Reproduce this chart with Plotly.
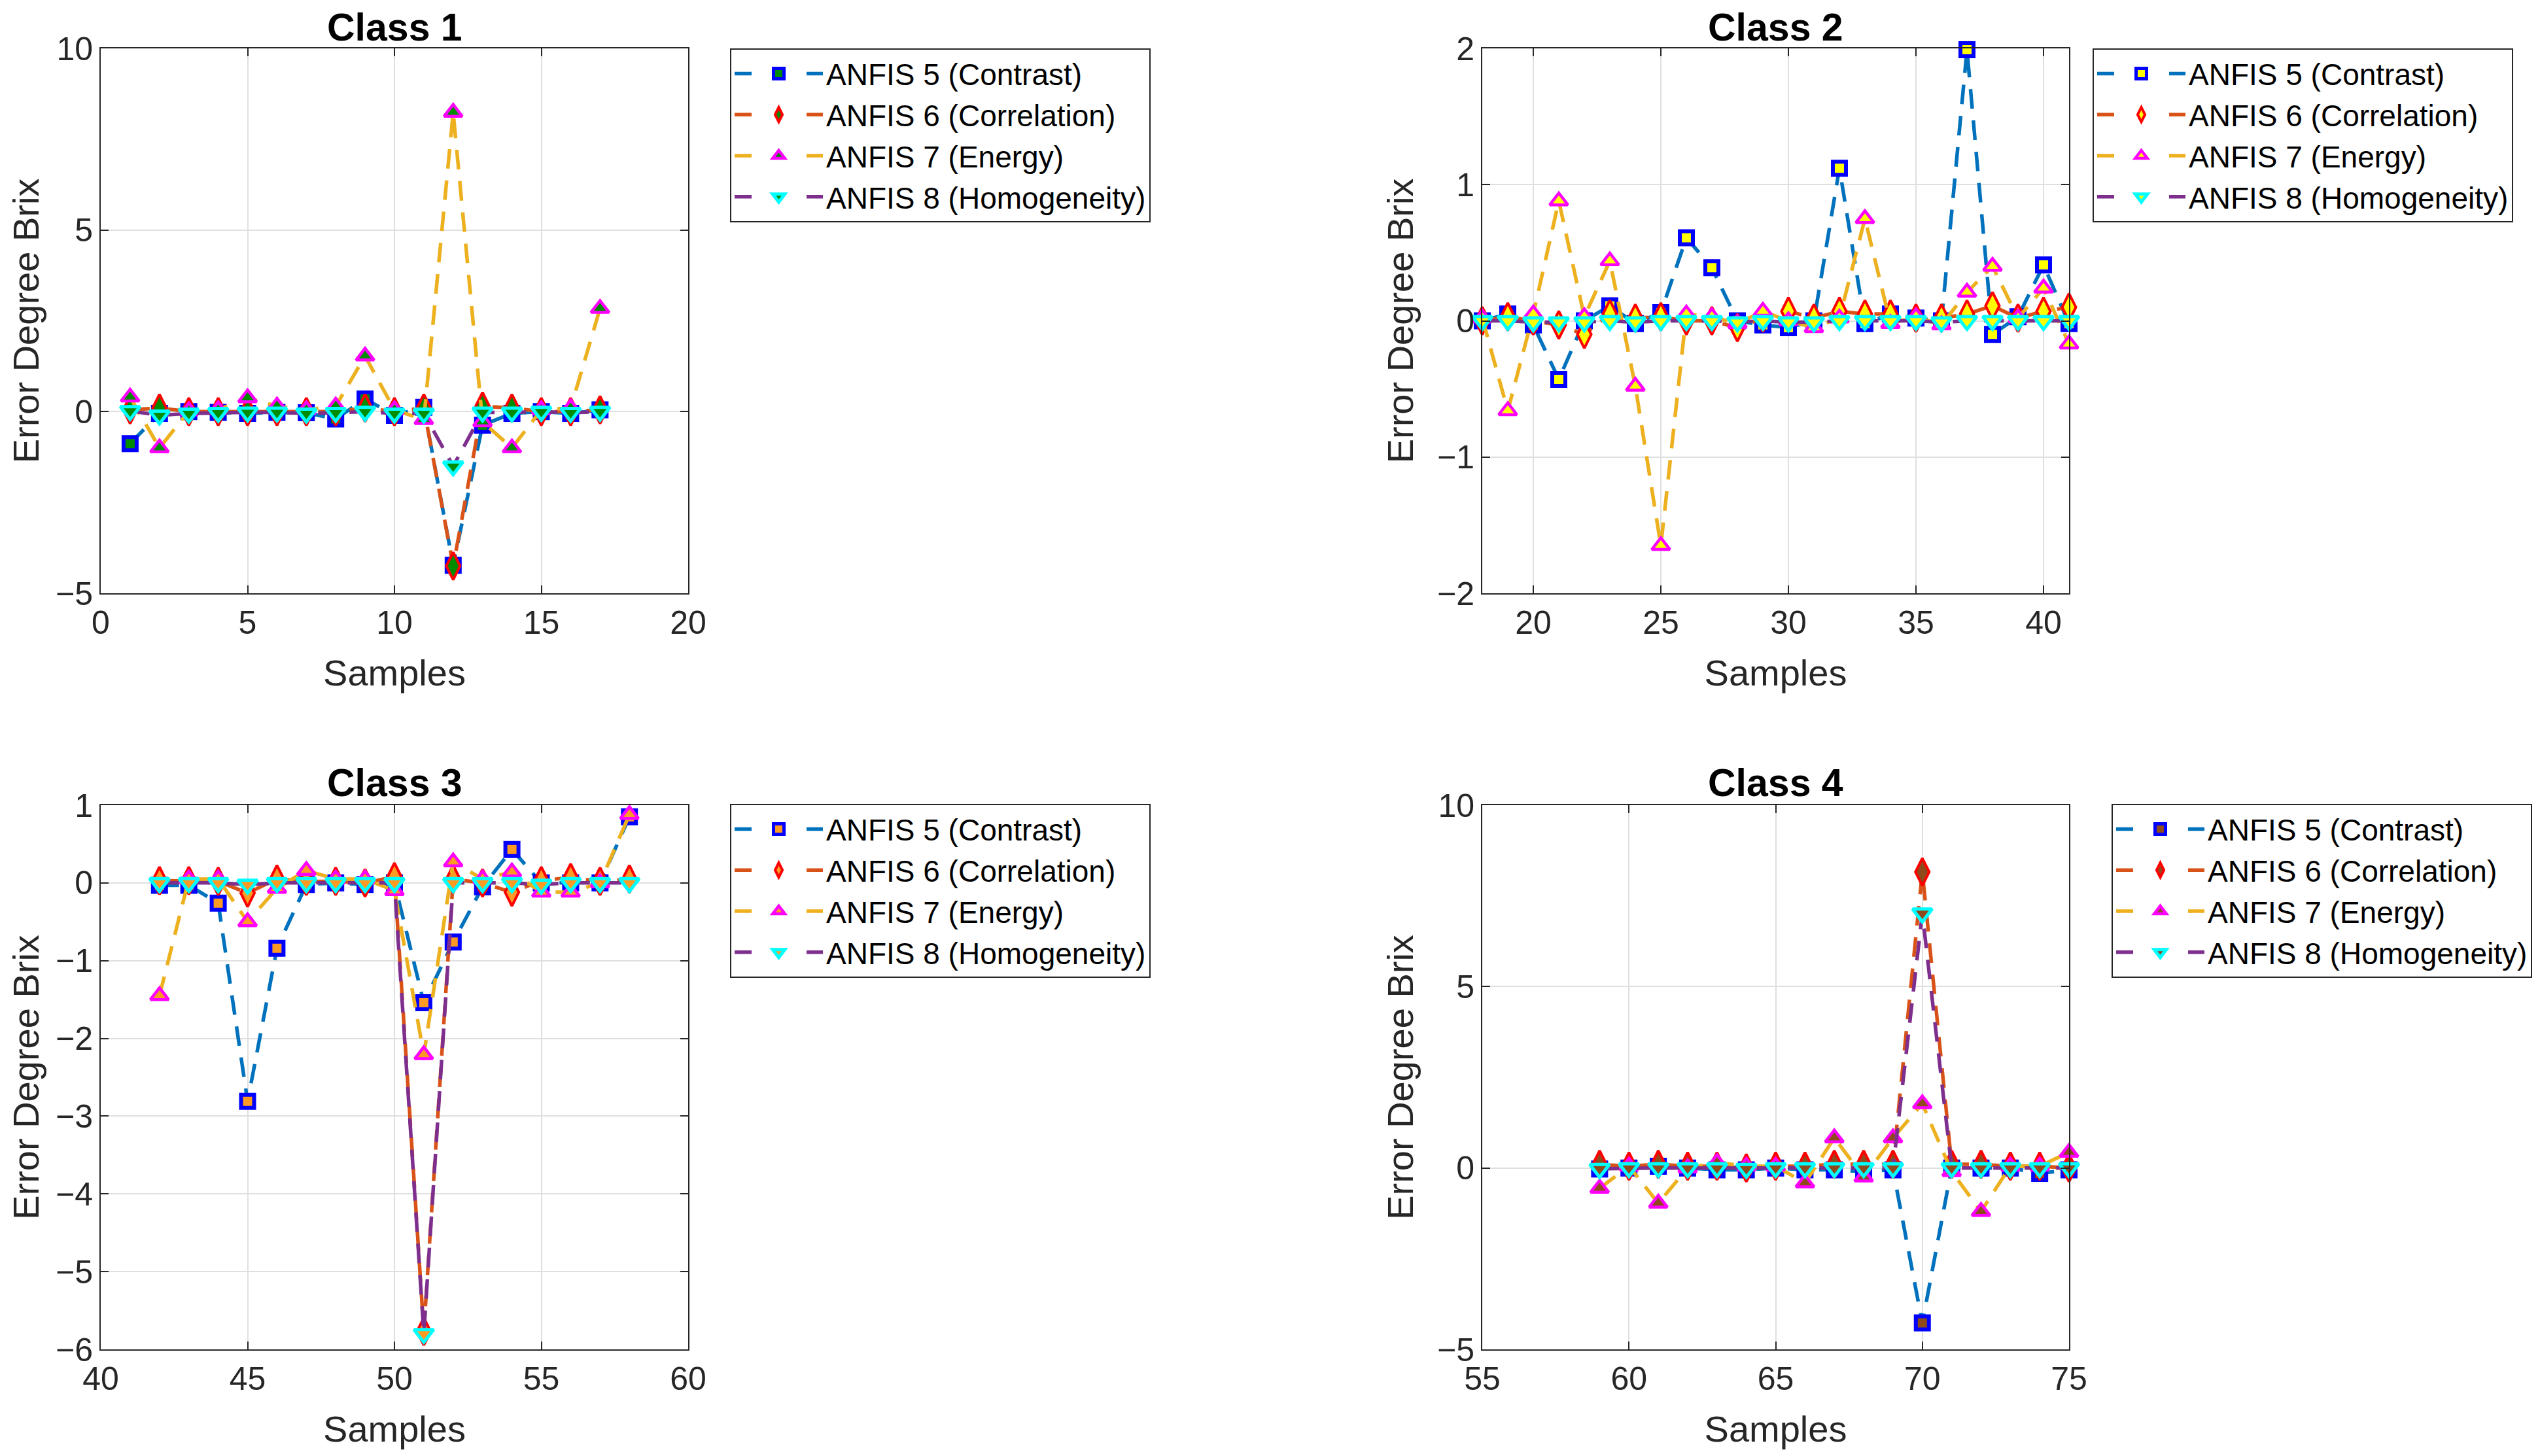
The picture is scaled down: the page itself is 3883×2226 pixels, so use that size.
import plotly.graph_objects as go

# ---------------- data ----------------
series_names = ["ANFIS 5 (Contrast)", "ANFIS 6 (Correlation)",
                "ANFIS 7 (Energy)", "ANFIS 8 (Homogeneity)"]
class_titles = ["Class 1", "Class 2", "Class 3", "Class 4"]

c1_samples = [1, 2, 3, 4, 5, 6, 7, 8, 9, 10, 11, 12, 13, 14, 15, 16, 17]
c1_a5 = [-0.88, -0.05, 0.0, -0.02, -0.05, -0.02, -0.03, -0.2, 0.35, -0.1, 0.12, -4.23, -0.37, -0.05, 0.0, -0.05, 0.05]
c1_a6 = [0.05, 0.1, 0.0, 0.0, 0.0, 0.0, 0.0, 0.0, 0.1, 0.0, 0.1, -4.25, 0.15, 0.1, 0.0, 0.0, 0.05]
c1_a7 = [0.4, -1.0, 0.02, 0.05, 0.38, 0.15, 0.05, 0.15, 1.53, 0.05, -0.22, 8.24, -0.28, -1.0, 0.05, 0.1, 2.84]
c1_a8 = [0.02, -0.1, -0.05, -0.03, -0.02, -0.02, -0.05, -0.03, 0.0, -0.05, -0.05, -1.5, -0.02, -0.02, 0.0, -0.03, 0.0]

c2_samples = [18, 19, 20, 21, 22, 23, 24, 25, 26, 27, 28, 29, 30, 31, 32, 33, 34, 35, 36, 37, 38, 39, 40, 41]
c2_a5 = [0.0, 0.05, -0.03, -0.43, 0.0, 0.11, -0.02, 0.06, 0.61, 0.39, 0.0, -0.03, -0.05, 0.0, 1.12, -0.02, 0.05, 0.02, 0.0, 1.99, -0.1, 0.03, 0.41, -0.02]
c2_a6 = [0.0, 0.03, 0.0, -0.03, -0.1, 0.05, 0.02, 0.03, 0.0, 0.0, -0.05, 0.02, 0.07, 0.02, 0.07, 0.05, 0.05, 0.02, 0.02, 0.05, 0.11, 0.02, 0.07, 0.1]
c2_a7 = [0.02, -0.66, 0.05, 0.88, 0.03, 0.44, -0.48, -1.65, 0.05, 0.03, -0.02, 0.07, 0.0, -0.05, 0.02, 0.75, -0.02, 0.03, -0.03, 0.21, 0.4, 0.02, 0.24, -0.17]
c2_a8 = [0.0, 0.0, -0.01, -0.01, -0.01, 0.0, -0.01, 0.0, 0.0, 0.0, -0.01, 0.0, -0.01, -0.01, 0.0, 0.0, 0.0, 0.0, -0.01, 0.0, 0.0, 0.0, 0.0, 0.0]

c3_samples = [42, 43, 44, 45, 46, 47, 48, 49, 50, 51, 52, 53, 54, 55, 56, 57, 58]
c3_a5 = [-0.03, -0.03, -0.26, -2.81, -0.84, -0.02, 0.0, -0.02, 0.0, -1.54, -0.76, -0.05, 0.43, 0.0, 0.0, 0.0, 0.85]
c3_a6 = [0.03, 0.03, 0.02, -0.13, 0.05, 0.02, 0.02, 0.0, 0.08, -5.77, 0.05, 0.0, -0.12, 0.03, 0.07, 0.02, 0.05]
c3_a7 = [-1.45, 0.05, 0.05, -0.5, -0.07, 0.16, 0.05, 0.05, -0.1, -2.21, 0.27, 0.05, 0.14, -0.12, -0.12, 0.0, 0.88]
c3_a8 = [0.0, 0.0, 0.0, -0.02, 0.0, 0.0, 0.0, 0.0, 0.0, -5.8, 0.0, 0.0, 0.0, -0.02, 0.0, 0.0, 0.0]

c4_samples = [59, 60, 61, 62, 63, 64, 65, 66, 67, 68, 69, 70, 71, 72, 73, 74, 75]
c4_a5 = [-0.03, 0.0, 0.05, 0.0, -0.05, -0.05, 0.0, -0.05, -0.05, -0.1, -0.05, -4.27, 0.0, 0.0, 0.0, -0.15, -0.05]
c4_a6 = [0.1, 0.05, 0.1, 0.05, 0.05, 0.0, 0.05, 0.05, 0.1, 0.1, 0.1, 8.16, 0.1, 0.1, 0.05, 0.05, 0.0]
c4_a7 = [-0.56, 0.05, -0.97, 0.0, 0.15, 0.05, 0.05, -0.41, 0.83, -0.25, 0.83, 1.77, -0.1, -1.2, 0.05, 0.05, 0.43]
c4_a8 = [-0.02, 0.0, 0.0, 0.0, 0.0, -0.02, 0.0, 0.0, 0.0, 0.0, 0.0, 7.02, 0.0, 0.0, 0.0, 0.0, 0.0]

x_ranges = [[0, 20], [18, 41], [40, 60], [55, 75]]
y_ranges = [[-5, 10], [-2, 2], [-6, 1], [-5, 10]]
y_dticks = [5, 1, 1, 5]

# ---------------- style ----------------
OFF = 8                      # default page body margin
W, H = 3883 - 2 * OFF, 2226 - 2 * OFF
FONT = "Liberation Sans, Arial, Helvetica, sans-serif"
AX_COLOR = "#262626"
line_colors = ["#0072BD", "#D95319", "#EDB120", "#7E2F8E"]
edge_colors = ["#0000FF", "#FF0000", "#FF00FF", "#00FFFF"]
symbols = ["square", "diamond-tall", "triangle-up", "triangle-down"]
msizes = [20, 30, 24, 26]
mlines = [6, 4, 4.5, 5]
fill_colors = ["#008C00", "#FFFF00", "#FF9A22", "#8F4A1C"]
LINE_W = 5.5
DASH = "30px,18px"
LEGEND_DASH = "26px,84px,100px"

# pixel boxes (in the 3883x2226 picture) of the four axes (left, right, top, bottom)
ax_px = [(154, 1052, 74, 907), (2266, 3163, 74, 907),
         (154, 1052, 1231, 2063), (2266, 3163, 1231, 2063)]
legend_px = [(1116, 74), (3199, 74), (1116, 1229), (3228, 1229)]
title_cy = [42, 42, 1197, 1197]


def px_x(v):
    return (v - OFF) / W


def px_y(v):
    return 1 - (v - OFF) / H


classes = [
    (c1_samples, [c1_a5, c1_a6, c1_a7, c1_a8]),
    (c2_samples, [c2_a5, c2_a6, c2_a7, c2_a8]),
    (c3_samples, [c3_a5, c3_a6, c3_a7, c3_a8]),
    (c4_samples, [c4_a5, c4_a6, c4_a7, c4_a8]),
]

fig = go.Figure()
layout = dict(
    width=W, height=H, margin=dict(l=0, r=0, t=0, b=0, autoexpand=False),
    paper_bgcolor="white", plot_bgcolor="white",
    font=dict(family=FONT, color=AX_COLOR),
    annotations=[],
)

for i, (xs, ys_list) in enumerate(classes):
    sfx = "" if i == 0 else str(i + 1)
    leg = "legend" if i == 0 else "legend" + str(i + 1)
    for k, ys in enumerate(ys_list):
        marker = dict(symbol=symbols[k], size=msizes[k], color=fill_colors[i],
                      line=dict(color=edge_colors[k], width=mlines[k]))
        fig.add_trace(go.Scatter(
            x=xs, y=ys, mode="lines+markers", name=series_names[k],
            xaxis="x" + sfx, yaxis="y" + sfx, showlegend=False,
            cliponaxis=False,
            line=dict(color=line_colors[k], width=LINE_W, dash=DASH),
            marker=marker,
        ))
    # legend entries (no data, only the key)
    for k in range(4):
        marker = dict(symbol=symbols[k], size=msizes[k], color=fill_colors[i],
                      line=dict(color=edge_colors[k], width=mlines[k]))
        fig.add_trace(go.Scatter(
            x=[None], y=[None], mode="lines+markers", name=series_names[k],
            xaxis="x" + sfx, yaxis="y" + sfx, legend=leg, showlegend=True,
            line=dict(color=line_colors[k], width=LINE_W, dash=LEGEND_DASH),
            marker=marker, hoverinfo="skip",
        ))
    l, r, t, b = ax_px[i]
    xdom = [px_x(l), px_x(r)]
    ydom = [px_y(b), px_y(t)]
    common = dict(
        showline=True, linecolor=AX_COLOR, linewidth=2, mirror="ticks",
        ticks="inside", ticklen=12, tickwidth=2, tickcolor=AX_COLOR,
        showgrid=True, gridcolor="#DFDFDF", gridwidth=2, zeroline=False,
        automargin=False,
        tickfont=dict(family=FONT, size=50, color=AX_COLOR),
    )
    layout["xaxis" + sfx] = dict(
        common, domain=xdom, range=x_ranges[i], dtick=5, tick0=0,
        anchor="y" + sfx,
        title=dict(text="Samples", font=dict(family=FONT, size=56, color=AX_COLOR), standoff=30),
    )
    layout["yaxis" + sfx] = dict(
        common, domain=ydom, range=y_ranges[i], dtick=y_dticks[i], tick0=0,
        anchor="x" + sfx,
        title=dict(text="Error Degree Brix", font=dict(family=FONT, size=56, color=AX_COLOR), standoff=18),
    )
    layout["annotations"].append(dict(
        text="<b>" + class_titles[i] + "</b>", xref="paper", yref="paper",
        x=(xdom[0] + xdom[1]) / 2, y=px_y(title_cy[i]), xanchor="center", yanchor="middle",
        showarrow=False, borderpad=0, font=dict(family=FONT, size=59, color="black"),
    ))
    lx, ly = legend_px[i]
    layout[leg] = dict(
        x=px_x(lx), y=px_y(ly), xanchor="left", yanchor="top",
        bordercolor=AX_COLOR, borderwidth=2, bgcolor="white",
        font=dict(family=FONT, size=46, color="black"),
        itemwidth=135, itemsizing="trace", tracegroupgap=0,
    )

fig.update_layout(**layout)
fig.write_html("out.html")
